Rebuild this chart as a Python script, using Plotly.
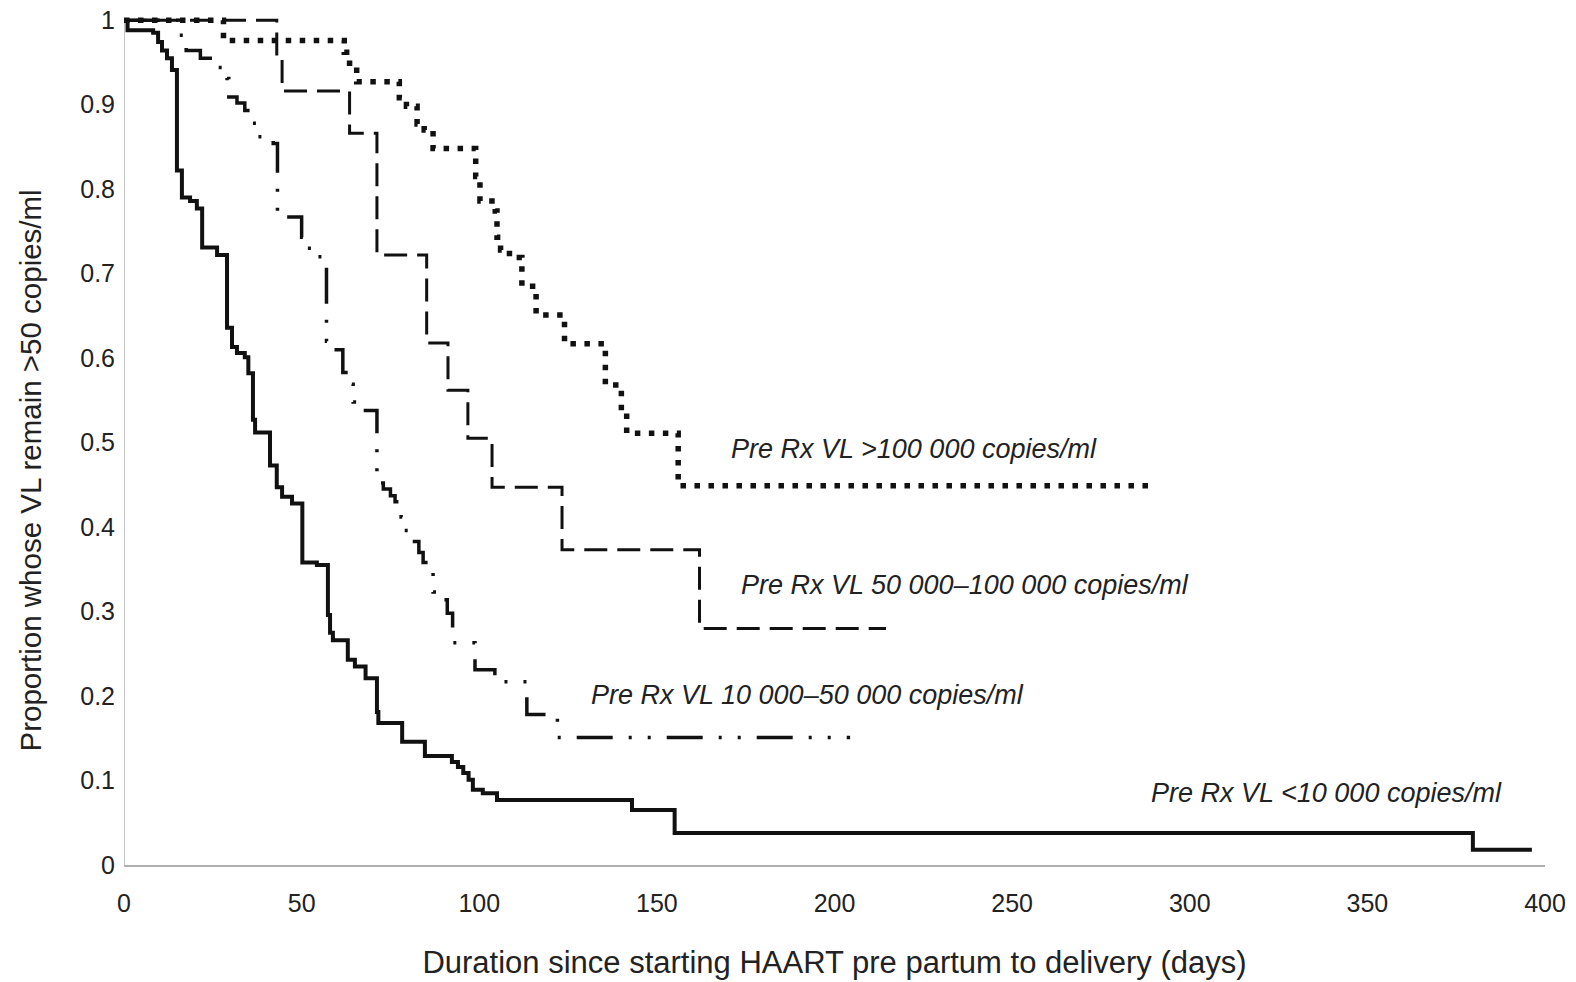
import plotly.graph_objects as go

# ---- data ----
# Pre Rx VL <10 000 copies/ml  (solid)
t_lt10k = [0, 1, 8.2, 9.6, 10.7, 12.1, 13.5, 14.9, 16.3, 18.6, 20.5, 22, 26.2, 29, 30.4, 31.8, 34, 35,
           36.3, 36.9, 41.1, 43, 44.5, 47.3, 50.2, 54.3, 57.4, 58, 58.8, 63, 65, 68, 71.2, 71.6, 78.3,
           84.7, 92.3, 94, 95.5, 97, 98.2, 101, 105, 143, 155, 379.7, 396.3]
s_lt10k = [1.0, 0.988, 0.985, 0.974, 0.964, 0.955, 0.941, 0.822, 0.79, 0.786, 0.777, 0.731, 0.722, 0.636,
           0.613, 0.606, 0.601, 0.582, 0.527, 0.512, 0.473, 0.447, 0.436, 0.428, 0.358, 0.355, 0.296,
           0.275, 0.266, 0.243, 0.235, 0.221, 0.181, 0.168, 0.146, 0.129, 0.122, 0.116, 0.109, 0.101,
           0.089, 0.085, 0.077, 0.065, 0.038, 0.018, 0.018]

# Pre Rx VL 10 000-50 000 copies/ml  (dash-dot)
t_10_50k = [0, 15.2, 17.5, 21.5, 26.5, 29, 29.5, 31.8, 34, 36, 37.5, 42, 43.2, 50, 51.5, 54.5, 57, 58.5,
            61.6, 64, 64.5, 67, 71.2, 73, 75, 76.3, 78, 79, 81, 83, 84.2, 87, 89.8, 91, 92.5, 98.8,
            104.4, 113.4, 122, 204.4]
s_10_50k = [1.0, 0.982, 0.964, 0.955, 0.944, 0.931, 0.909, 0.902, 0.893, 0.878, 0.862, 0.854, 0.767,
            0.743, 0.73, 0.72, 0.62, 0.61, 0.583, 0.569, 0.548, 0.538, 0.452, 0.445, 0.437, 0.43,
            0.412, 0.396, 0.383, 0.37, 0.358, 0.323, 0.314, 0.298, 0.263, 0.231, 0.217, 0.178, 0.151,
            0.151]

# Pre Rx VL 50 000-100 000 copies/ml  (dashed)
t_50_100k = [0, 43, 44.5, 63.5, 71.2, 85.2, 91.2, 96.8, 103.6, 123.3, 162, 214.5]
s_50_100k = [1.0, 0.958, 0.916, 0.866, 0.722, 0.618, 0.562, 0.505, 0.447, 0.373, 0.28, 0.28]

# Pre Rx VL >100 000 copies/ml  (dotted)
t_gt100k = [0, 28, 62, 63.5, 65.5, 77.5, 79.5, 82.5, 84.5, 87, 99, 100.2, 104.5, 105, 106, 108.5, 112,
            116, 124, 135.5, 140, 141.5, 156, 290]
s_gt100k = [1.0, 0.976, 0.962, 0.945, 0.927, 0.908, 0.898, 0.877, 0.870, 0.848, 0.815, 0.786, 0.774,
            0.743, 0.728, 0.719, 0.685, 0.651, 0.617, 0.568, 0.538, 0.511, 0.449, 0.449]

labels = ["Pre Rx VL <10 000 copies/ml", "Pre Rx VL 10 000\u201350 000 copies/ml",
          "Pre Rx VL 50 000\u2013100 000 copies/ml", "Pre Rx VL >100 000 copies/ml"]
label_x = [288.5, 130.9, 173.1, 170.3]
label_y = [0.085, 0.201, 0.331, 0.492]

x_ticks = [0, 50, 100, 150, 200, 250, 300, 350, 400]
y_ticks = [0, 0.1, 0.2, 0.3, 0.4, 0.5, 0.6, 0.7, 0.8, 0.9, 1]
y_ticktext = ["0", "0.1", "0.2", "0.3", "0.4", "0.5", "0.6", "0.7", "0.8", "0.9", "1"]

x_title = "Duration since starting HAART pre partum to delivery (days)"
y_title = "Proportion whose VL remain >50 copies/ml"

FONT = "Liberation Sans, Arial, sans-serif"
TXT = "#222222"

# ---- figure ----
fig = go.Figure()
series = [
    (t_lt10k, s_lt10k, dict(color="#111111", width=4, dash="solid")),
    (t_10_50k, s_10_50k, dict(color="#111111", width=3.5, dash="36px,16px,3px,16px,3px,16px")),
    (t_50_100k, s_50_100k, dict(color="#111111", width=3, dash="23px,10px")),
    (t_gt100k, s_gt100k, dict(color="#111111", width=5.5, dash="5.5px,8.5px")),
]
for (tx, sy, ln), name in zip(series, labels):
    fig.add_trace(go.Scatter(x=tx, y=sy, mode="lines", line=dict(shape="hv", **ln),
                             name=name, showlegend=False, hoverinfo="skip"))

for txt, lx, ly in zip(labels, label_x, label_y):
    fig.add_annotation(x=lx, y=ly, xref="x", yref="y", text="<i>" + txt + "</i>",
                       showarrow=False, xanchor="left", yanchor="middle",
                       font=dict(family=FONT, size=27, color=TXT))

# y-axis title, placed as in the reference (slightly below the axis centre)
fig.add_annotation(x=-0.0661, y=0.4615, xref="paper", yref="paper", text=y_title,
                   textangle=-90, showarrow=False, xanchor="center", yanchor="middle",
                   font=dict(family=FONT, size=29.5, color=TXT))

# y axis line (drawn only from 0 to 1)
fig.add_shape(type="line", xref="x", yref="y", x0=0, x1=0, y0=0, y1=1,
              line=dict(color="#b0b0b0", width=1.5), layer="below")

fig.update_layout(
    width=1576, height=982,
    margin=dict(l=124, r=31, t=10, b=117, autoexpand=False),
    paper_bgcolor="white", plot_bgcolor="white",
    font=dict(family=FONT, size=25, color=TXT),
)
fig.update_xaxes(range=[0, 400], tickvals=x_ticks, showgrid=False, zeroline=False,
                 showline=True, linecolor="#b0b0b0", linewidth=1.5,
                 ticks="outside", ticklen=15, tickcolor="rgba(0,0,0,0)",
                 tickfont=dict(size=25, color=TXT),
                 title=dict(text=x_title, font=dict(size=31, color=TXT), standoff=36),
                 automargin=False)
fig.update_yaxes(range=[0, 1.012], tickvals=y_ticks, ticktext=y_ticktext, showgrid=False,
                 zeroline=False, showline=False,
                 ticks="outside", ticklen=3, tickcolor="rgba(0,0,0,0)",
                 tickfont=dict(size=25, color=TXT),
                 automargin=False)

fig.write_html("out.html")
